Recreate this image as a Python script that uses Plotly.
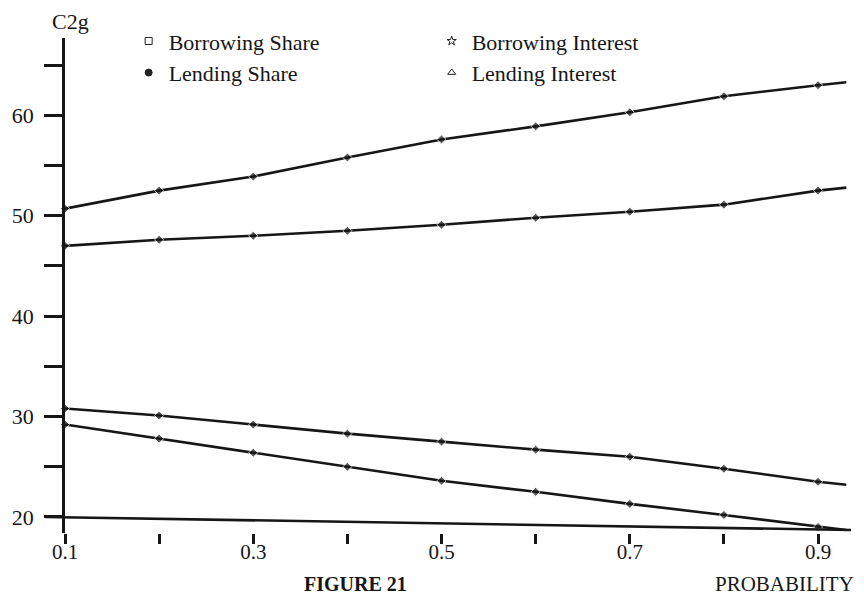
import plotly.graph_objects as go

# ---- data ----
probability = [0.1, 0.2, 0.3, 0.4, 0.5, 0.6, 0.7, 0.8, 0.9, 0.93]
borrowing_interest = [50.7, 52.5, 53.9, 55.8, 57.6, 58.9, 60.3, 61.9, 63.0, 63.3]
lending_interest = [47.0, 47.6, 48.0, 48.5, 49.1, 49.8, 50.4, 51.1, 52.5, 52.8]
lending_share = [30.8, 30.1, 29.2, 28.3, 27.5, 26.7, 26.0, 24.8, 23.5, 23.2]
borrowing_share = [29.2, 27.8, 26.4, 25.0, 23.6, 22.5, 21.3, 20.2, 19.0, 18.7]

x_tickvals = [0.1, 0.2, 0.3, 0.4, 0.5, 0.6, 0.7, 0.8, 0.9]
x_ticktext = ["0.1", "", "0.3", "", "0.5", "", "0.7", "", "0.9"]
y_tickvals = [20, 25, 30, 35, 40, 45, 50, 55, 60, 65]
y_ticktext = ["20", "", "30", "", "40", "", "50", "", "60", ""]

series = [
    ("Borrowing Share", borrowing_share, "square-open"),
    ("Borrowing Interest", borrowing_interest, "star-open"),
    ("Lending Share", lending_share, "circle"),
    ("Lending Interest", lending_interest, "triangle-up-open"),
]

FONT = "Liberation Serif, Times New Roman, serif"
INK = "#161616"
fig = go.Figure()

marker_sizes = [7] * (len(probability) - 1) + [0]
for name, vals, sym in series:
    fig.add_trace(go.Scatter(
        x=probability, y=vals, mode="lines+markers", showlegend=False,
        line=dict(color=INK, width=2.6),
        marker=dict(symbol="diamond", size=marker_sizes, color=INK),
        cliponaxis=False, name=name,
    ))

# legend-only entries (marker only, as in the reference key)
for name, vals, sym in series:
    fig.add_trace(go.Scatter(
        x=[None], y=[None], mode="markers", name=name,
        marker=dict(symbol=sym, size=7, color="#222222",
                    line=dict(color="#222222", width=1)),
    ))

fig.update_layout(
    width=856, height=598,
    margin=dict(l=57, r=13, t=27, b=73),
    paper_bgcolor="white", plot_bgcolor="white",
    font=dict(family=FONT, color=INK, size=21),
    legend=dict(orientation="h", x=0.081, y=1.036, xanchor="left", yanchor="top",
                entrywidth=258, itemwidth=30, bgcolor="rgba(0,0,0,0)",
                font=dict(family=FONT, size=22, color=INK)),
    xaxis=dict(range=[0.1, 0.935], tickvals=x_tickvals, ticktext=x_ticktext,
               showgrid=False, zeroline=False, showline=False, automargin=False,
               ticks="outside", ticklen=10, tickwidth=2.5, tickcolor=INK,
               ticklabelstandoff=-10,
               tickfont=dict(family=FONT, size=21)),
    yaxis=dict(range=[18.4, 67.7], tickvals=y_tickvals, ticktext=y_ticktext,
               showgrid=False, zeroline=False, showline=True, automargin=False,
               linecolor=INK, linewidth=2.5,
               ticks="outside", ticklen=18, tickwidth=2.5, tickcolor=INK,
               ticklabelstandoff=6,
               tickfont=dict(family=FONT, size=22)),
    shapes=[dict(type="line", xref="paper", yref="y", x0=-0.025, x1=1.0,
                 y0=20.0, y1=18.7, line=dict(color=INK, width=2.6),
                 layer="above")],
    annotations=[
        dict(text="C2g", x=-0.019, y=1.034, xref="paper", yref="paper",
             xanchor="left", yanchor="middle", showarrow=False,
             font=dict(family=FONT, size=22)),
        dict(text="<b>FIGURE 21</b>", x=0.369, y=-0.104, xref="paper", yref="paper",
             xanchor="center", yanchor="middle", showarrow=False,
             font=dict(family=FONT, size=20)),
        dict(text="PROBABILITY", x=1.006, y=-0.104, xref="paper", yref="paper",
             xanchor="right", yanchor="middle", showarrow=False,
             font=dict(family=FONT, size=21)),
    ],
)

fig.write_html("out.html")
